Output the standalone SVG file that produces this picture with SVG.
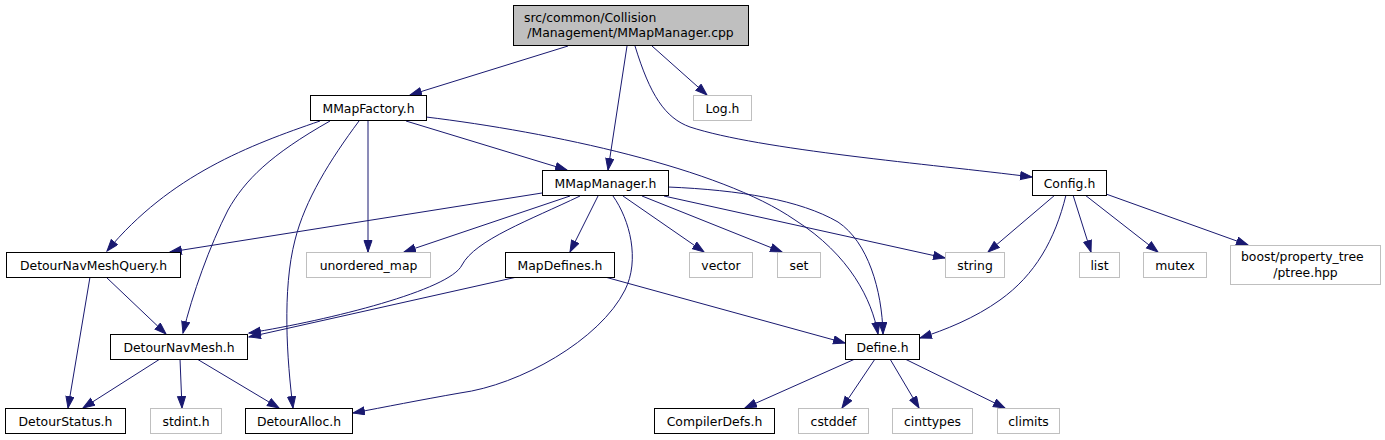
<svg xmlns="http://www.w3.org/2000/svg" width="1385" height="440" viewBox="0 0 1385 440">
<defs>
<marker id="arr" markerUnits="userSpaceOnUse" markerWidth="14" markerHeight="11" refX="12" refY="4.5" orient="auto">
<path d="M0.5,0.5 L12,4.5 L0.5,8.5 z" fill="#191970" stroke="#191970" stroke-width="1"/>
</marker>
<style>
.n rect{fill:#ffffff;stroke:#000000;stroke-width:1}
.g rect{fill:#ffffff;stroke:#bfbfbf;stroke-width:1}
.r rect{fill:#bfbfbf;stroke:#000000;stroke-width:1}
text{font-family:"DejaVu Sans","Liberation Sans",sans-serif;font-size:12.4px;fill:#000000;text-anchor:middle}
.e path{fill:none;stroke:#191970;stroke-width:1;marker-end:url(#arr)}
</style>
</defs>
<rect x="0" y="0" width="1385" height="440" fill="#ffffff"/>
<g class="e" id="edges">
<path d="M568,46 L410,95"/>
<path d="M627,46 L608,170"/>
<path d="M652,46 L707,95"/>
<path d="M635,46 C650,95 665,118 690,127 C760,150 930,164 1032,177"/>
<path d="M320,121 C250,145 170,175 107,251"/>
<path d="M330,121 C270,155 245,180 228,210 C210,245 192,295 183,333"/>
<path d="M359,121 C330,160 305,200 295,240 C282,290 287,360 293,408"/>
<path d="M368,121 L368,252"/>
<path d="M406,121 L567,170"/>
<path d="M426,117 C550,132 720,168 795,220 C850,255 872,300 878,334"/>
<path d="M542,193 L170,252"/>
<path d="M570,196 L404,252"/>
<path d="M580,196 C530,220 475,240 462,265 C450,290 330,320 249,333"/>
<path d="M598,196 L570,252"/>
<path d="M613,196 C630,220 640,260 625,290 C600,340 520,385 460,393 C420,400 385,407 353,413"/>
<path d="M623,196 L704,252"/>
<path d="M642,196 L782,252"/>
<path d="M664,196 L945,258"/>
<path d="M668,187 C740,190 800,200 838,222 C868,242 882,290 883,334"/>
<path d="M605,277 L845,343"/>
<path d="M517,277 L249,337"/>
<path d="M1055,195 L988,252"/>
<path d="M1066,195 C1055,240 1035,275 1000,300 C975,318 945,330 920,338"/>
<path d="M1073,195 L1091,252"/>
<path d="M1085,195 L1158,252"/>
<path d="M1106,194 L1248,245"/>
<path d="M90,277 L68,408"/>
<path d="M106,277 L166,334"/>
<path d="M160,359 L83,408"/>
<path d="M180,359 L182,408"/>
<path d="M197,359 L279,408"/>
<path d="M855,359 L745,408"/>
<path d="M875,359 L842,408"/>
<path d="M890,359 L919,408"/>
<path d="M905,359 L1005,408"/>
</g>
<g id="root" class="r"><rect x="513.5" y="5.5" width="235" height="40"/><text x="524" y="21.5" style="text-anchor:start">src/common/Collision</text><text x="630.5" y="37">/Management/MMapManager.cpp</text></g>
<g id="MMapFactory" class="n"><rect x="310.5" y="95.5" width="116" height="25"/><text x="368.5" y="112.5">MMapFactory.h</text></g>
<g id="Log" class="g"><rect x="693.5" y="95.5" width="58" height="25"/><text x="722.5" y="112.5">Log.h</text></g>
<g id="MMapManager" class="n"><rect x="542.5" y="170.5" width="126" height="25"/><text x="605.5" y="187.5">MMapManager.h</text></g>
<g id="Config" class="n"><rect x="1032.5" y="170.5" width="74" height="25"/><text x="1069.5" y="187.5">Config.h</text></g>
<g id="DetourNavMeshQuery" class="n"><rect x="6.5" y="252.5" width="174" height="25"/><text x="93.5" y="269.5">DetourNavMeshQuery.h</text></g>
<g id="unordered_map" class="g"><rect x="306.5" y="252.5" width="124" height="25"/><text x="368.5" y="269.5">unordered_map</text></g>
<g id="MapDefines" class="n"><rect x="505.5" y="252.5" width="109" height="25"/><text x="560" y="269.5">MapDefines.h</text></g>
<g id="vector" class="g"><rect x="689.5" y="252.5" width="63" height="25"/><text x="721" y="269.5">vector</text></g>
<g id="set" class="g"><rect x="777.5" y="252.5" width="43" height="25"/><text x="799" y="269.5">set</text></g>
<g id="string" class="g"><rect x="945.5" y="252.5" width="59" height="25"/><text x="975" y="269.5">string</text></g>
<g id="list" class="g"><rect x="1079.5" y="252.5" width="40" height="25"/><text x="1099.5" y="269.5">list</text></g>
<g id="mutex" class="g"><rect x="1143.5" y="252.5" width="63" height="25"/><text x="1175" y="269.5">mutex</text></g>
<g id="boost_ptree" class="g"><rect x="1230.5" y="245.5" width="150" height="39"/><text x="1241" y="261" style="text-anchor:start">boost/property_tree</text><text x="1305.5" y="276.5">/ptree.hpp</text></g>
<g id="DetourNavMesh" class="n"><rect x="110.5" y="334.5" width="137" height="25"/><text x="179" y="351.5">DetourNavMesh.h</text></g>
<g id="Define" class="n"><rect x="845.5" y="334.5" width="74" height="25"/><text x="882.5" y="351.5">Define.h</text></g>
<g id="DetourStatus" class="n"><rect x="5.5" y="408.5" width="120" height="25"/><text x="65.5" y="425.5">DetourStatus.h</text></g>
<g id="stdint" class="g"><rect x="150.5" y="408.5" width="71" height="25"/><text x="186" y="425.5">stdint.h</text></g>
<g id="DetourAlloc" class="n"><rect x="245.5" y="408.5" width="107" height="25"/><text x="299" y="425.5">DetourAlloc.h</text></g>
<g id="CompilerDefs" class="n"><rect x="654.5" y="408.5" width="120" height="25"/><text x="714.5" y="425.5">CompilerDefs.h</text></g>
<g id="cstddef" class="g"><rect x="798.5" y="408.5" width="70" height="25"/><text x="833.5" y="425.5">cstddef</text></g>
<g id="cinttypes" class="g"><rect x="892.5" y="408.5" width="80" height="25"/><text x="932.5" y="425.5">cinttypes</text></g>
<g id="climits" class="g"><rect x="997.5" y="408.5" width="62" height="25"/><text x="1028.5" y="425.5">climits</text></g>
</svg>
